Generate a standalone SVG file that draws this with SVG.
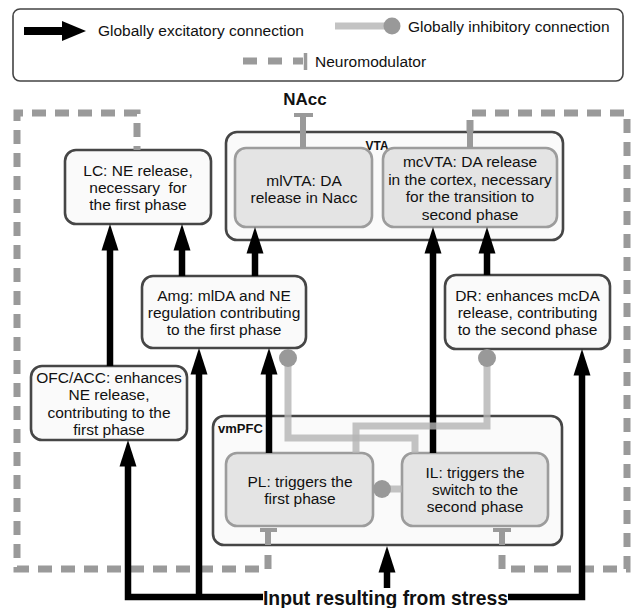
<svg xmlns="http://www.w3.org/2000/svg" width="631" height="608" viewBox="0 0 631 608">
<style>
.t{font-family:"Liberation Sans",Arial,sans-serif;font-size:15.5px;fill:#111;text-anchor:middle}
.lt{font-family:"Liberation Sans",Arial,sans-serif;font-size:15.5px;fill:#111}
.b{font-family:"Liberation Sans",Arial,sans-serif;font-weight:bold;fill:#111}
.outer{fill:#fafafa;stroke:#464646;stroke-width:2.6}
.inner{fill:#e4e4e4;stroke:#9c9c9c;stroke-width:2.6}
.exc{fill:none;stroke:#000;stroke-width:6.5;marker-end:url(#ah)}
.inh{fill:none;stroke:#b4b4b4;stroke-width:7;stroke-opacity:0.8}
.inhc{fill:#999}
.nm{fill:none;stroke:#9a9a9a;stroke-width:7;stroke-dasharray:14 9}
.stem{fill:none;stroke:#9a9a9a;stroke-width:6}
.bar{fill:none;stroke:#9a9a9a;stroke-width:4}
</style>
<defs>
<marker id="ah" markerUnits="userSpaceOnUse" markerWidth="28" markerHeight="18" viewBox="0 -9 28 18" refX="1" refY="0" orient="auto">
<path d="M0,-8.5 L26.5,0 L0,8.5 Z" fill="#000"/>
</marker>
</defs>
<rect width="631" height="608" fill="#fff"/>

<g id="legend">
<rect x="13" y="9" width="610" height="72" rx="7" fill="#fff" stroke="#444" stroke-width="1.6"/>
<path d="M24,31 H64" stroke="#000" stroke-width="8" fill="none"/>
<polygon points="62,21 86,31 62,41" fill="#000"/>
<text class="lt" x="98" y="36">Globally excitatory connection</text>
<path d="M335,26 H386" class="inh"/>
<circle cx="392" cy="26" r="8.5" class="inhc"/>
<text class="lt" x="408" y="32">Globally inhibitory connection</text>
<path d="M243,61 H303" class="nm" style="stroke-dasharray:14 11"/>
<path d="M305.5,53 V70" class="bar" style="stroke-width:3.5"/>
<text class="lt" x="315" y="67">Neuromodulator</text>
</g>

<g id="NAcc">
<text class="b" x="305" y="105" style="font-size:17px" text-anchor="middle">NAcc</text>
</g>

<g id="LC">
<rect class="outer" x="65" y="150" width="146" height="74" rx="11"/>
<text class="t" x="138" y="176">LC: NE release,</text>
<text class="t" x="138" y="193" xml:space="preserve">necessary  for</text>
<text class="t" x="138" y="210">the first phase</text>
</g>

<g id="VTA">
<rect class="outer" x="226" y="132" width="337" height="108" rx="11"/>
<text class="b" x="377" y="150" style="font-size:12px" text-anchor="middle">VTA</text>
</g>

<g id="mlVTA">
<rect class="inner" x="235" y="148" width="137" height="79" rx="11"/>
<text class="t" x="304" y="185.5">mlVTA: DA</text>
<text class="t" x="304" y="202.5">release in Nacc</text>
</g>

<g id="mcVTA">
<rect class="inner" x="383" y="148" width="174" height="79" rx="11"/>
<text class="t" x="470" y="167">mcVTA: DA release</text>
<text class="t" x="470" y="184.5">in the cortex, necessary</text>
<text class="t" x="470" y="202">for the transition to</text>
<text class="t" x="470" y="219.5">second phase</text>
</g>

<g id="Amg">
<rect class="outer" x="142" y="276" width="164" height="72" rx="11"/>
<text class="t" x="224" y="300.5">Amg: mlDA and NE</text>
<text class="t" x="224" y="317.5">regulation contributing</text>
<text class="t" x="224" y="334.5">to the first phase</text>
</g>

<g id="DR">
<rect class="outer" x="445" y="275" width="165" height="74" rx="11"/>
<text class="t" x="527.5" y="300.5">DR: enhances mcDA</text>
<text class="t" x="527.5" y="317.5">release, contributing</text>
<text class="t" x="527.5" y="334.5">to the second phase</text>
</g>

<g id="OFC_ACC">
<rect class="outer" x="31" y="366" width="156" height="74" rx="11"/>
<text class="t" x="109" y="382.5">OFC/ACC: enhances</text>
<text class="t" x="109" y="400">NE release,</text>
<text class="t" x="109" y="417.5">contributing to the</text>
<text class="t" x="109" y="434.5">first phase</text>
</g>

<g id="vmPFC">
<rect class="outer" x="213" y="416" width="349" height="129" rx="11"/>
<text class="b" x="218" y="432.5" style="font-size:13px">vmPFC</text>
</g>

<g id="PL">
<rect class="inner" x="226" y="453" width="147" height="73" rx="11"/>
<text class="t" x="300" y="486.5">PL: triggers the</text>
<text class="t" x="300" y="503.5">first phase</text>
</g>

<g id="IL">
<rect class="inner" x="402" y="453" width="146" height="73" rx="11"/>
<text class="t" x="475" y="477.5">IL: triggers the</text>
<text class="t" x="475" y="494.5">switch to the</text>
<text class="t" x="475" y="512">second phase</text>
</g>

<g id="stress">
<text class="b" x="263" y="604.5" style="font-size:21px" textLength="245" lengthAdjust="spacingAndGlyphs">Input resulting from stress</text>
</g>

<g id="connectors">
<g id="neuromodulator">
<path class="nm" d="M268,555 V569 H17 V113 H137 V150"/>
<path class="nm" d="M502,555 V569 H627 V113 H470 V132"/>
<path class="stem" d="M470,131 V148"/>
<path class="stem" d="M268,530 V545"/>
<path class="bar" d="M260,530 H277"/>
<path class="stem" d="M502,530 V545"/>
<path class="bar" d="M493,530 H511"/>
<path class="stem" d="M303,148 V115"/>
<path class="bar" d="M294,115 H313"/>
</g>
<g id="excitatory">
<path class="exc" d="M110,366 V249.5"/>
<path class="exc" d="M182,276 V249.5"/>
<path class="exc" d="M255,276 V252.5"/>
<path class="exc" d="M269,453 V373.5"/>
<path class="exc" d="M433,453 V252.5"/>
<path class="exc" d="M487,275 V252.5"/>
<path class="exc" d="M263,597 H128 V465.5"/>
<path class="exc" d="M199,597 V373.5"/>
<path class="exc" d="M387,588 V571.5"/>
<path class="exc" d="M508,597 H582 V374.5"/>
</g>
<g id="inhibitory">
<path class="inh" d="M415,453 V438 H288 V366"/>
<circle cx="288" cy="358" r="9" class="inhc"/>
<path class="inh" d="M356,453 V426 H487 V366"/>
<circle cx="487" cy="358" r="9" class="inhc"/>
<path class="inh" d="M402,489 H390"/>
<circle cx="382" cy="489" r="9" class="inhc"/>
</g>
</g>
</svg>
